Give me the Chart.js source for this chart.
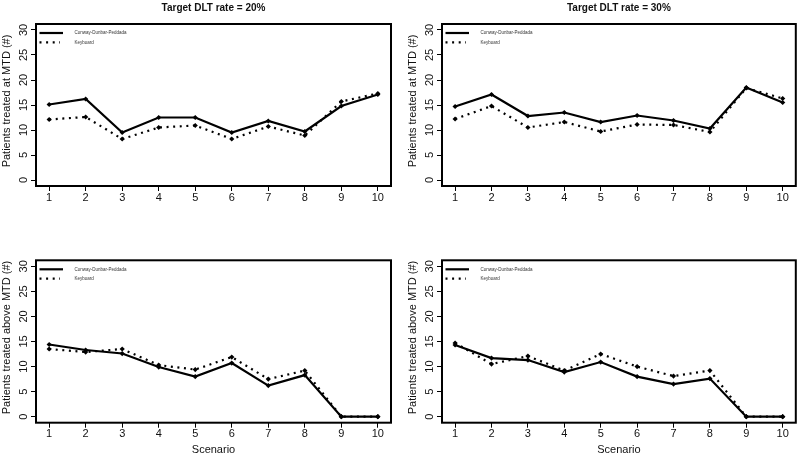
<!DOCTYPE html>
<html>
<head>
<meta charset="utf-8">
<script src="https://cdn.jsdelivr.net/npm/chart.js@4.4.1/dist/chart.umd.min.js"></script>
<style>
  html, body { margin: 0; padding: 0; background: #fff; }
  #wrap { position: relative; width: 800px; height: 457px; overflow: hidden; background: #fff; }
  canvas { position: absolute; }
</style>
</head>
<body>
<div id="wrap">
  <canvas id="c1" width="400" height="230" style="left:0;top:0"></canvas>
  <canvas id="c2" width="400" height="230" style="left:400px;top:0"></canvas>
  <canvas id="c3" width="400" height="227" style="left:0;top:230px"></canvas>
  <canvas id="c4" width="400" height="227" style="left:400px;top:230px"></canvas>
</div>
<script>
// ---- Data ----
const scenarios = [1, 2, 3, 4, 5, 6, 7, 8, 9, 10];
const yTicks = [0, 5, 10, 15, 20, 25, 30];
const seriesNames = ['Conway-Dunbar-Peddada', 'Keyboard'];
const panelTitles = ['Target DLT rate = 20%', 'Target DLT rate = 30%'];
const yTitles = ['Patients treated at MTD (#)', 'Patients treated above MTD (#)'];
const xTitle = 'Scenario';

const mtd20Conway   = [15.1, 16.2, 9.5, 12.5, 12.5, 9.5, 11.8, 9.7, 14.8, 17.1];
const mtd20Keyboard = [12.1, 12.6, 8.2, 10.5, 10.9, 8.2, 10.7, 8.9, 15.7, 17.3];
const mtd30Conway   = [14.7, 17.1, 12.8, 13.5, 11.6, 12.9, 11.9, 10.3, 18.5, 15.5];
const mtd30Keyboard = [12.2, 14.8, 10.5, 11.6, 9.7, 11.1, 11.0, 9.6, 18.4, 16.3];
const above20Conway   = [14.4, 13.3, 12.6, 9.9, 8.0, 10.7, 6.2, 8.3, 0, 0];
const above20Keyboard = [13.5, 12.9, 13.5, 10.3, 9.4, 11.9, 7.5, 9.2, 0, 0];
const above30Conway   = [14.3, 11.7, 11.3, 8.9, 10.9, 8.0, 6.5, 7.6, 0, 0];
const above30Keyboard = [14.7, 10.5, 12.1, 9.2, 12.5, 10.0, 8.1, 9.2, 0, 0];

const FONT = '"Liberation Sans", Arial, sans-serif';
const INK = '#111';

const panelPlugin = {
  id: 'panelDecor',
  afterDraw(chart, args, opts) {
    const ctx = chart.ctx;
    const a = chart.chartArea;
    const ys = chart.scales.y;
    ctx.save();
    // box
    ctx.strokeStyle = '#000';
    ctx.lineWidth = 2;
    ctx.strokeRect(a.left, a.top, a.right - a.left, a.bottom - a.top);
    // rotated y tick labels
    ctx.fillStyle = INK;
    ctx.font = '11px ' + FONT;
    ctx.textAlign = 'center';
    ctx.textBaseline = 'middle';
    ys.ticks.forEach(t => {
      const py = ys.getPixelForValue(t.value);
      ctx.save();
      ctx.translate(a.left - 12, py);
      ctx.rotate(-Math.PI / 2);
      ctx.fillText(String(t.value), 0, 0);
      ctx.restore();
    });
    // y axis title
    ctx.save();
    ctx.translate(a.left - 29, (a.top + a.bottom) / 2 - 4);
    ctx.rotate(-Math.PI / 2);
    ctx.fillText(opts.yTitle, 0, 0);
    ctx.restore();
    // panel title
    if (opts.title) {
      ctx.font = 'bold 10px ' + FONT;
      ctx.fillText(opts.title, (a.left + a.right) / 2, 8);
    }
    // x axis title
    if (opts.xTitle) {
      ctx.font = '11px ' + FONT;
      ctx.fillText(opts.xTitle, (a.left + a.right) / 2, chart.height - 7);
    }
    // legend
    const ds = chart.data.datasets;
    const lx0 = a.left + 3.5, lx1 = a.left + 27;
    const rows = [a.top + 9, a.top + 18.4];
    ds.forEach((d, i) => {
      ctx.beginPath();
      ctx.strokeStyle = d.borderColor;
      ctx.lineWidth = d.borderWidth;
      ctx.setLineDash(d.borderDash || []);
      ctx.moveTo(lx0, rows[i]);
      ctx.lineTo(i === 0 ? lx1 : lx1 - 3, rows[i]);
      ctx.stroke();
      ctx.setLineDash([]);
      ctx.fillStyle = '#333';
      ctx.font = '4.5px ' + FONT;
      ctx.textAlign = 'left';
      ctx.fillText(d.label, a.left + 38.5, rows[i]);
    });
    ctx.restore();
  }
};

function makePanel(id, conway, keyboard, opt) {
  const toPts = arr => scenarios.map((s, i) => ({ x: s, y: arr[i] }));
  return new Chart(document.getElementById(id), {
    type: 'line',
    data: {
      datasets: [
        {
          label: seriesNames[0],
          data: toPts(conway),
          borderColor: '#000',
          backgroundColor: '#000',
          borderWidth: 2.2,
          pointStyle: 'rectRot',
          pointRadius: 2.6,
          pointBorderWidth: 0,
          tension: 0,
          fill: false
        },
        {
          label: seriesNames[1],
          data: toPts(keyboard),
          borderColor: '#000',
          backgroundColor: '#000',
          borderWidth: 2.2,
          borderDash: [2, 4.6],
          pointStyle: 'rectRot',
          pointRadius: 2.6,
          pointBorderWidth: 0,
          tension: 0,
          fill: false
        }
      ]
    },
    options: {
      responsive: false,
      animation: false,
      devicePixelRatio: 1,
      layout: { padding: { left: 0, right: opt.padRight, top: opt.padTop, bottom: 0 } },
      plugins: {
        legend: { display: false },
        tooltip: { enabled: false },
        panelDecor: { title: opt.title, yTitle: opt.yTitle, xTitle: opt.xTitle }
      },
      scales: {
        x: {
          type: 'linear',
          min: 0.64,
          max: 10.36,
          afterBuildTicks: s => { s.ticks = scenarios.map(v => ({ value: v })); },
          afterFit: s => { s.height = opt.xHeight; },
          border: { display: false },
          grid: { drawOnChartArea: false, drawTicks: true, tickLength: 5, color: '#000', lineWidth: 1 },
          ticks: {
            autoSkip: false, maxRotation: 0, minRotation: 0, padding: 0,
            color: INK, font: { family: FONT, size: 11 },
            callback: v => String(v)
          }
        },
        y: {
          type: 'linear',
          min: -1.2,
          max: 31.2,
          afterBuildTicks: s => { s.ticks = yTicks.map(v => ({ value: v })); },
          afterFit: s => { s.width = opt.yWidth; },
          border: { display: false },
          grid: { drawOnChartArea: false, drawTicks: true, tickLength: 5, color: '#000', lineWidth: 1 },
          ticks: { display: false }
        }
      }
    },
    plugins: [panelPlugin]
  });
}

makePanel('c1', mtd20Conway, mtd20Keyboard,
  { title: panelTitles[0], yTitle: yTitles[0], padRight: 9, padTop: 24, xHeight: 44, yWidth: 36 });
makePanel('c2', mtd30Conway, mtd30Keyboard,
  { title: panelTitles[1], yTitle: yTitles[0], padRight: 4.2, padTop: 24, xHeight: 44, yWidth: 42 });
makePanel('c3', above20Conway, above20Keyboard,
  { yTitle: yTitles[1], xTitle: xTitle, padRight: 9, padTop: 30.3, xHeight: 34.3, yWidth: 36 });
makePanel('c4', above30Conway, above30Keyboard,
  { yTitle: yTitles[1], xTitle: xTitle, padRight: 4.2, padTop: 30.3, xHeight: 34.3, yWidth: 42 });
</script>
</body>
</html>
